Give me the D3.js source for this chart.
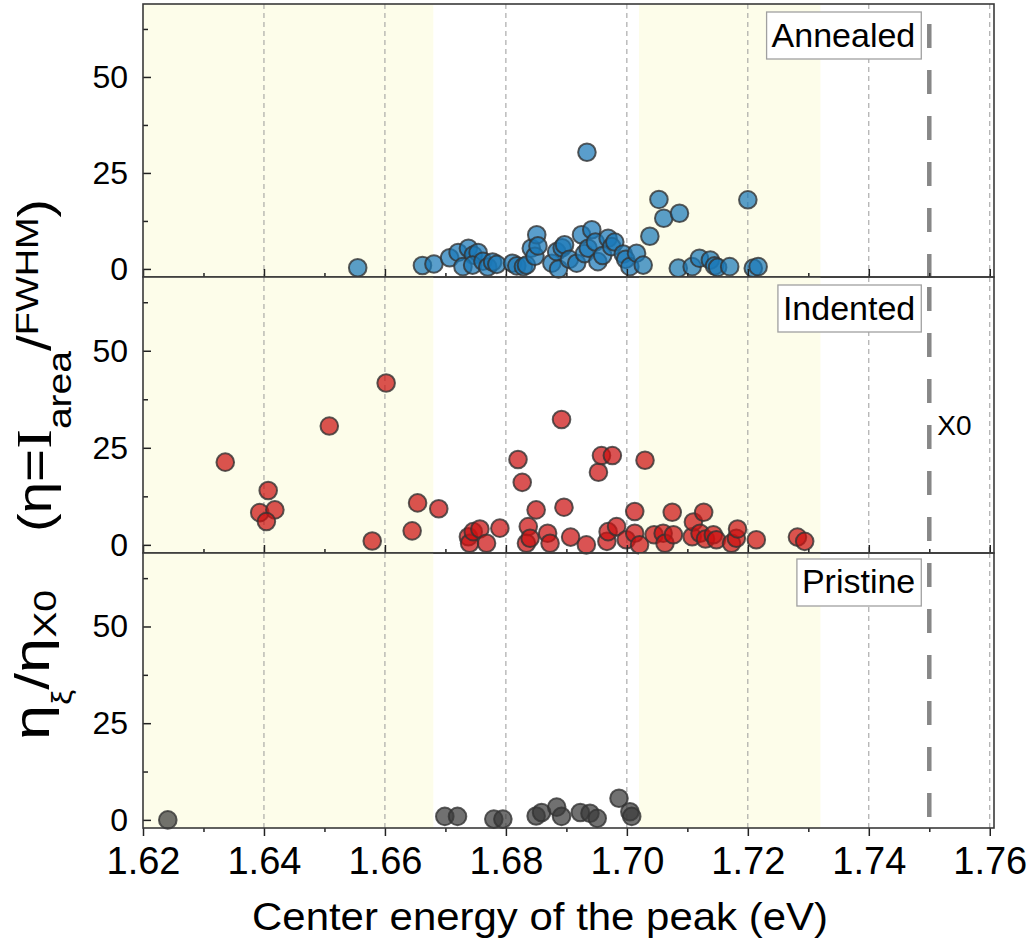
<!DOCTYPE html>
<html><head><meta charset="utf-8">
<script src="https://cdn.jsdelivr.net/npm/d3@7"></script>
<style>body{margin:0;background:#fff}</style>
</head><body><svg id="c" width="1036" height="945"></svg>
<script>
// ---------------- data ----------------
const panelNames = ["Annealed", "Indented", "Pristine"];

const annealedE = [1.6555,1.6662,1.6681,1.6707,1.6721,1.6738,1.6746,1.6754,1.6729,1.6745,1.6762,1.6770,1.6778,1.6785,
  1.6811,1.6818,1.6829,1.6834,1.6842,1.6848,1.6851,1.6853,1.6876,1.6884,1.6887,1.6893,1.6897,1.6905,1.6917,1.6925,
  1.6930,1.6936,1.6942,1.6934,1.6948,1.6952,1.6960,1.6969,1.6975,1.6980,1.6994,1.6998,1.7005,1.7016,1.7027,1.7038,
  1.7053,1.7061,1.7087,1.7085,1.7108,1.7120,1.7138,1.7145,1.7150,1.7170,1.7200,1.7209,1.7217];
const annealedV = [0.3,0.9,1.3,2.9,4.3,5.4,3.6,4.3,0.6,1.0,2.0,0.5,1.8,1.2,
  1.5,0.8,0.6,1.0,5.4,3.3,8.9,6.0,1.5,4.5,0.0,5.5,6.3,2.5,1.5,8.9,
  4.0,5.4,10.2,30.4,7.0,1.9,3.5,8.0,5.8,7.0,3.9,2.5,0.6,4.1,1.0,8.5,
  18.1,13.2,14.5,0.2,0.6,2.8,2.3,0.8,0.4,0.6,18.0,0.2,0.6];

const indentedE = [1.6336,1.6407,1.6393,1.6418,1.6404,1.6508,1.6602,1.6579,1.6654,1.6645,1.6689,1.6738,1.6740,1.6746,
  1.6757,1.6768,1.6790,1.6820,1.6827,1.6837,1.6834,1.6840,1.6850,1.6869,1.6873,1.6892,1.6896,1.6907,1.6933,1.6953,
  1.6958,1.6976,1.6967,1.6969,1.6983,1.6999,1.7013,1.7013,1.7021,1.7030,1.7045,1.7060,1.7063,1.7075,1.7077,1.7108,
  1.7110,1.7121,1.7127,1.7130,1.7143,1.7148,1.7173,1.7181,1.7183,1.7214,1.7282,1.7294];
const indentedV = [21.3,14.0,8.3,9.0,6.0,30.6,41.7,1.0,10.8,3.6,9.3,2.1,0.4,3.4,
  4.1,0.4,4.3,22.0,16.1,4.7,0.4,1.7,9.0,3.0,0.4,32.3,9.7,2.0,0.0,18.7,
  23.0,23.0,0.9,3.4,4.7,1.3,8.6,3.0,0.0,21.8,2.6,3.0,0.4,8.4,2.6,2.1,
  5.9,3.0,8.4,1.5,2.6,1.3,0.4,1.7,4.1,1.3,2.0,0.9];

const pristineE = [1.6241,1.6699,1.6720,1.6780,1.6795,1.6850,1.6859,1.6884,1.6892,1.6923,1.6939,1.6951,1.6987,1.7005,1.7008];
const pristineV = [0.0,0.9,0.9,0.2,0.2,1.0,1.9,3.3,0.9,1.9,1.7,0.4,5.6,2.1,0.9];

const xTicks = [1.62,1.64,1.66,1.68,1.70,1.72,1.74,1.76];
const xMinorTicks = [1.63,1.65,1.67,1.69,1.71,1.73,1.75];
const yTicks = [0,25,50];
const yMinorTicks = [12.5,37.5,62.5];
const bandsStart = [1.62, 1.702];
const bandsEnd = [1.668, 1.732];
const x0Energy = 1.75;
const xTitle = "Center energy of the peak (eV)";

// ---------------- layout ----------------
const svg = d3.select("#c");
const FONT = "'Liberation Sans', Arial, Helvetica, sans-serif";
const left = 143, right = 994;
const tops = [4, 277, 553], bottoms = [277, 553, 828];
const fills = ["#1a78b8", "#cc1010", "#3a3a3a"];
const series = [[annealedE, annealedV], [indentedE, indentedV], [pristineE, pristineV]];

const x = d3.scaleLinear().domain([1.62, 1.7607]).range([left, right]);

svg.append("rect").attr("width",1036).attr("height",945).attr("fill","#fff");

panelNames.forEach((name, i) => {
  const y = d3.scaleLinear().domain([-2.1, 69]).range([bottoms[i], tops[i]]);
  const g = svg.append("g");
  const h = bottoms[i] - tops[i];
  // shaded bands
  g.selectAll("rect.band").data(d3.range(bandsStart.length)).join("rect").attr("class","band")
    .attr("x", k => x(bandsStart[k])).attr("width", k => x(bandsEnd[k]) - x(bandsStart[k]))
    .attr("y", tops[i]).attr("height", h).attr("fill", "#fdfdea");
  // gridlines
  g.selectAll("line.grid").data(xTicks.slice(1)).join("line").attr("class","grid")
    .attr("x1", d => x(d)).attr("x2", d => x(d)).attr("y1", tops[i]).attr("y2", bottoms[i])
    .attr("stroke", "#9a9a9a").attr("stroke-width", 1).attr("stroke-dasharray", "5,4");
  // X0 line
  g.append("line").attr("x1", x(x0Energy)).attr("x2", x(x0Energy))
    .attr("y1", tops[i] + (i === 0 ? 20 : 10)).attr("y2", bottoms[i])
    .attr("stroke", "#878787").attr("stroke-width", 4.5).attr("stroke-dasharray", "24,22");
  // points
  const [E, V] = series[i];
  g.selectAll("circle").data(d3.range(E.length)).join("circle")
    .attr("cx", k => x(E[k])).attr("cy", k => y(V[k])).attr("r", 8.8)
    .attr("fill", fills[i]).attr("fill-opacity", 0.72)
    .attr("stroke", "#333").attr("stroke-opacity", 0.8).attr("stroke-width", 2);

  // y axis major / minor ticks (inward)
  const ya = g.append("g").attr("transform", `translate(${left},0)`)
    .call(d3.axisLeft(y).tickValues(yTicks).tickSize(-8).tickPadding(15).tickFormat(d3.format("d")));
  ya.select(".domain").remove();
  ya.selectAll("text").attr("font-family", FONT).attr("font-size", 32).attr("fill", "#000");
  ya.selectAll("line").attr("stroke", "#222").attr("stroke-width", 1.5);
  const ym = g.append("g").attr("transform", `translate(${left},0)`)
    .call(d3.axisLeft(y).tickValues(yMinorTicks).tickSize(-5).tickFormat(""));
  ym.select(".domain").remove();
  ym.selectAll("line").attr("stroke", "#222").attr("stroke-width", 1.5);

  // x axis ticks
  const last = i === 2;
  const xa = g.append("g").attr("transform", `translate(0,${bottoms[i]})`)
    .call(d3.axisBottom(x).tickValues(xTicks).tickSize(last ? 8 : -8).tickPadding(11)
      .tickFormat(last ? d3.format(".2f") : ""));
  xa.select(".domain").remove();
  xa.selectAll("line").attr("stroke", "#222").attr("stroke-width", 1.5);
  xa.selectAll("text").attr("font-family", FONT).attr("font-size", 38).attr("fill", "#000");
  const xm = g.append("g").attr("transform", `translate(0,${bottoms[i]})`)
    .call(d3.axisBottom(x).tickValues(xMinorTicks).tickSize(last ? 4 : -4).tickFormat(""));
  xm.select(".domain").remove();
  xm.selectAll("line").attr("stroke", "#222").attr("stroke-width", 1.5);

  // frame
  g.append("rect").attr("x", left).attr("y", tops[i]).attr("width", right - left).attr("height", h)
    .attr("fill", "none").attr("stroke", "#3a3a3a").attr("stroke-width", 1.6);

  // label box
  const boxRight = x(x0Energy) - 8;
  const lab = g.append("text").attr("font-family", FONT).attr("font-size", 34).attr("fill", "#000")
    .attr("text-anchor", "end").attr("x", boxRight - 6).attr("y", tops[i] + (i === 2 ? 40 : 43)).text(name);
  const bb = lab.node().getBBox();
  g.append("rect")
    .attr("x", bb.x - 5).attr("y", tops[i] + (i === 2 ? 6 : 8)).attr("width", bb.width + 11).attr("height", 47)
    .attr("fill", "#fff").attr("stroke", "#a0a0a0").attr("stroke-width", 1.3);
  lab.raise();

  if (i === 1) {
    g.append("text").attr("font-family", FONT).attr("font-size", 28).attr("fill", "#000")
      .attr("x", x(x0Energy) + 8).attr("y", y(28.4)).text("X0");
  }
});

// x axis title
svg.append("text").attr("font-family", FONT).attr("font-size", 39).attr("fill", "#000")
  .attr("x", 252).attr("y", 930).attr("textLength", 576).attr("lengthAdjust", "spacingAndGlyphs")
  .text(xTitle);

// y axis label (two parts, rotated)
const yl1 = svg.append("text").attr("font-family", FONT).attr("fill", "#000")
  .attr("transform", "translate(49,740) rotate(-90)")
  .attr("textLength", 150).attr("lengthAdjust", "spacingAndGlyphs");
yl1.append("tspan").attr("font-size", 50).text("η");
yl1.append("tspan").attr("font-size", 27).attr("dy", 22).text("ξ");
yl1.append("tspan").attr("font-size", 48).attr("dy", -22).text("/");
yl1.append("tspan").attr("font-size", 50).text("η");
yl1.append("tspan").attr("font-size", 31).attr("dy", 7).text("X0");

const yl2 = svg.append("text").attr("font-family", FONT).attr("fill", "#000")
  .attr("transform", "translate(51,532) rotate(-90)")
  .attr("textLength", 333).attr("lengthAdjust", "spacingAndGlyphs");
yl2.append("tspan").attr("font-size", 47).text("(");
yl2.append("tspan").attr("font-size", 48).text("η=");
yl2.append("tspan").attr("font-size", 50).attr("font-family", "'Liberation Serif', 'Times New Roman', serif").text("I");
yl2.append("tspan").attr("font-size", 33).attr("dy", 20).text("area");
yl2.append("tspan").attr("font-size", 48).attr("dy", -20).text("/");
yl2.append("tspan").attr("font-size", 32).attr("dy", -13).text("FWHM");
yl2.append("tspan").attr("font-size", 47).attr("dy", 13).text(")");
</script></body></html>
